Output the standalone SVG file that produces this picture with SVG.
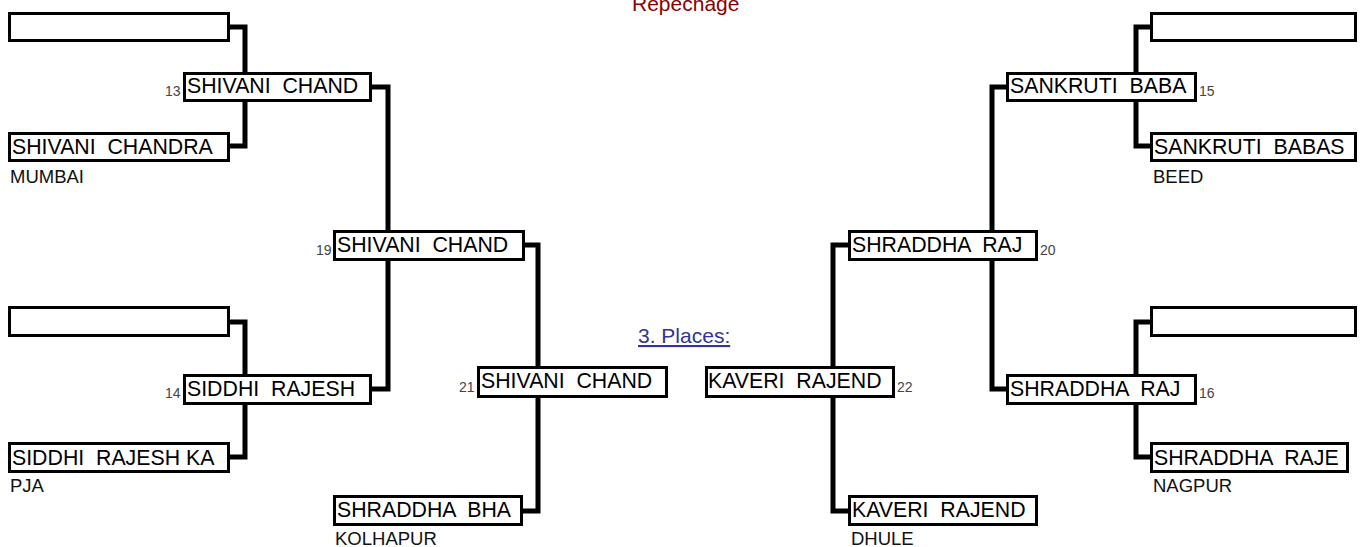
<svg xmlns="http://www.w3.org/2000/svg" width="1363" height="547" viewBox="0 0 1363 547">
<style>
.bg{fill:#fff}
.c{fill:none;stroke:#000;stroke-width:5;stroke-linejoin:miter}
.b{fill:#fff;stroke:#000;stroke-width:3}
.t{font-family:"Liberation Sans",Arial,sans-serif;font-size:21.3px;fill:#000;white-space:pre}
.s{font-family:"Liberation Sans",Arial,sans-serif;font-size:18.5px;fill:#111}
.n{font-family:"Liberation Sans",Arial,sans-serif;font-size:14px;fill:#444}
.h{font-family:"Liberation Sans",Arial,sans-serif;font-size:21px}
</style>
<rect class="bg" x="0" y="0" width="1363" height="547"/>
<text class="h" x="632" y="11" fill="#8b0000">Repechage</text>
<text class="h" x="638" y="343" fill="#333399" text-decoration="underline">3. Places:</text>
<g id="connectors">
<path class="c" d="M230,27 H245 V146 H230"/>
<path class="c" d="M372,87 H388 V389 H372"/>
<path class="c" d="M230,322 H245 V457 H230"/>
<path class="c" d="M525,245 H538 V511 H523"/>
<path class="c" d="M1150,27 H1136 V146 H1150"/>
<path class="c" d="M1006,87 H992 V389 H1006"/>
<path class="c" d="M1150,322 H1136 V457 H1150"/>
<path class="c" d="M848,245 H833 V511 H848"/>
</g>
<g id="e1"><rect class="b" x="9.5" y="13.5" width="219" height="27"/></g>
<g id="n-shivani-chandra"><rect class="b" x="9.5" y="133.5" width="219" height="27"/><text class="t" x="12" y="154" xml:space="preserve">SHIVANI  CHANDRA</text><text class="s" x="10" y="183">MUMBAI</text></g>
<g id="e2"><rect class="b" x="9.5" y="307.5" width="219" height="28"/></g>
<g id="n-siddhi-rajesh-ka"><rect class="b" x="9.5" y="443.5" width="219" height="28"/><text class="t" x="12" y="465" xml:space="preserve">SIDDHI  RAJESH KA</text><text class="s" x="10" y="492">PJA</text></g>
<g id="m13"><rect class="b" x="184.5" y="73.5" width="186" height="27"/><text class="t" x="187" y="93" xml:space="preserve">SHIVANI  CHAND</text><text class="n" x="165" y="96">13</text></g>
<g id="m14"><rect class="b" x="184.5" y="375.5" width="186" height="28"/><text class="t" x="187" y="396" xml:space="preserve">SIDDHI  RAJESH</text><text class="n" x="165" y="398">14</text></g>
<g id="m19"><rect class="b" x="334.5" y="231.5" width="189" height="28"/><text class="t" x="337" y="252" xml:space="preserve">SHIVANI  CHAND</text><text class="n" x="316" y="255">19</text></g>
<g id="n-shraddha-bha"><rect class="b" x="334.5" y="496.5" width="187" height="28"/><text class="t" x="337" y="517" xml:space="preserve">SHRADDHA  BHA</text><text class="s" x="335" y="545">KOLHAPUR</text></g>
<g id="m21"><rect class="b" x="478.5" y="367.5" width="188" height="29"/><text class="t" x="481" y="388" xml:space="preserve">SHIVANI  CHAND</text><text class="n" x="459" y="392">21</text></g>
<g id="m22"><rect class="b" x="706.5" y="367.5" width="187" height="29"/><text class="t" x="708" y="388" xml:space="preserve">KAVERI  RAJEND</text><text class="n" x="897" y="392">22</text></g>
<g id="n-kaveri-rajend"><rect class="b" x="849.5" y="496.5" width="187" height="28"/><text class="t" x="852" y="517" xml:space="preserve">KAVERI  RAJEND</text><text class="s" x="851" y="545">DHULE</text></g>
<g id="m20"><rect class="b" x="849.5" y="231.5" width="187" height="28"/><text class="t" x="852" y="252" xml:space="preserve">SHRADDHA  RAJ</text><text class="n" x="1040" y="255">20</text></g>
<g id="m15"><rect class="b" x="1007.5" y="73.5" width="188" height="27"/><text class="t" x="1010" y="93" xml:space="preserve">SANKRUTI  BABA</text><text class="n" x="1199" y="96">15</text></g>
<g id="m16"><rect class="b" x="1007.5" y="375.5" width="188" height="28"/><text class="t" x="1010" y="396" xml:space="preserve">SHRADDHA  RAJ</text><text class="n" x="1199" y="398">16</text></g>
<g id="e3"><rect class="b" x="1151.5" y="13.5" width="204" height="27"/></g>
<g id="n-sankruti-babas"><rect class="b" x="1151.5" y="133.5" width="204" height="27"/><text class="t" x="1154" y="154" xml:space="preserve">SANKRUTI  BABAS</text><text class="s" x="1153" y="183">BEED</text></g>
<g id="e4"><rect class="b" x="1151.5" y="307.5" width="204" height="28"/></g>
<g id="n-shraddha-raje"><rect class="b" x="1151.5" y="443.5" width="196" height="28"/><text class="t" x="1154" y="465" xml:space="preserve">SHRADDHA  RAJE</text><text class="s" x="1153" y="492">NAGPUR</text></g>
</svg>
